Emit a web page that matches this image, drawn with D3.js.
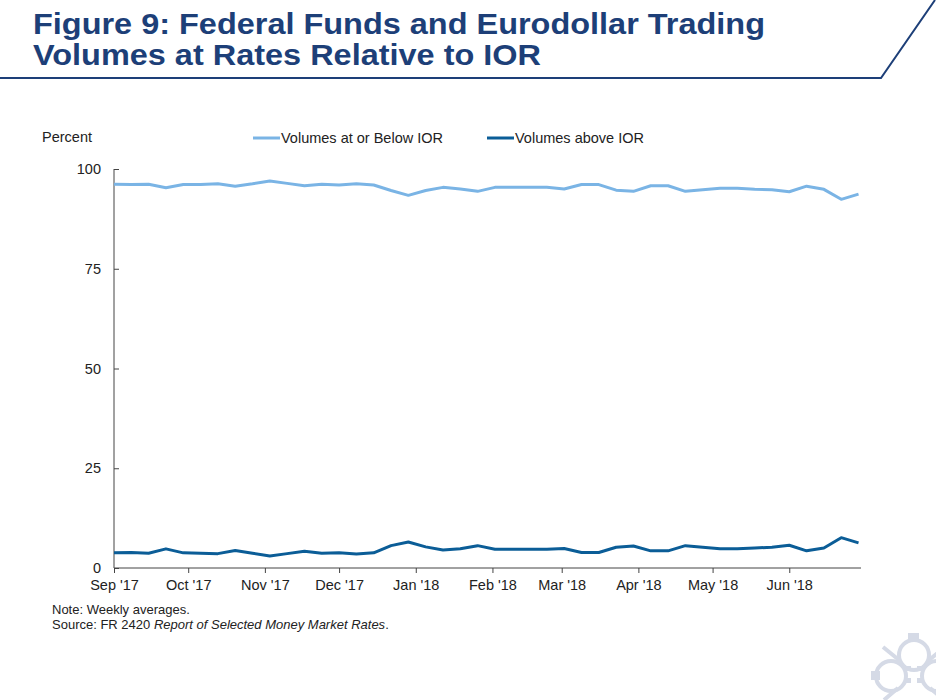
<!DOCTYPE html>
<html>
<head>
<meta charset="utf-8">
<script src="https://cdn.jsdelivr.net/npm/d3@7"></script>
<style>
    body { margin: 0; background: #fff; }
    svg { display: block; font-family: "Liberation Sans", Arial, sans-serif; }
</style>
</head>
<body>
<div id="chart"></div>
<script>
// weekly averages, Sep 2017 - Jun 2018
var firstWeek = "2017-09-01";
var belowIOR = [96.2, 96.1, 96.2, 95.3, 96.1, 96.1, 96.3, 95.7, 96.3, 97.0, 96.4, 95.8, 96.2, 96.0, 96.3, 96.0,
    94.6, 93.4, 94.6, 95.4, 95.0, 94.4, 95.4, 95.4, 95.4, 95.4, 95.0, 96.1, 96.1, 94.7, 94.4, 95.8, 95.8, 94.4,
    94.8, 95.2, 95.2, 94.9, 94.8, 94.3, 95.7, 94.9, 92.4, 93.7];
var aboveIOR = [3.8, 3.9, 3.7, 4.8, 3.8, 3.7, 3.6, 4.4, 3.7, 3.0, 3.6, 4.2, 3.7, 3.8, 3.5, 3.8,
    5.6, 6.5, 5.3, 4.5, 4.8, 5.6, 4.7, 4.7, 4.7, 4.7, 4.9, 3.9, 3.9, 5.2, 5.5, 4.3, 4.3, 5.6,
    5.2, 4.8, 4.8, 5.0, 5.2, 5.7, 4.3, 5.0, 7.6, 6.3];
var yTicks = [0, 25, 50, 75, 100];
var monthTicks = ["2017-09-01", "2017-10-01", "2017-11-01", "2017-12-01", "2018-01-01",
    "2018-02-01", "2018-03-01", "2018-04-01", "2018-05-01", "2018-06-01"];
var seriesNames = ["Volumes at or Below IOR", "Volumes above IOR"];

var navy = "#1d3f78";
var lightBlue = "#7ab4e5";
var darkBlue = "#0b5d97";
var axisColor = "#444";

var parse = d3.utcParse("%Y-%m-%d");
var start = parse(firstWeek);
var weeks = belowIOR.map(function (d, i) {
    return d3.utcDay.offset(start, 7 * i);
});

var svg = d3.select("#chart").append("svg")
    .attr("width", 936)
    .attr("height", 700);

// header
var titleFont = "'Liberation Sans Narrow', 'Arial Narrow', 'Liberation Sans', Arial, sans-serif";
svg.append("text")
    .attr("x", 33).attr("y", 34)
    .attr("fill", navy)
    .attr("font-family", titleFont)
    .attr("font-size", 30).attr("font-weight", "bold")
    .attr("textLength", 732).attr("lengthAdjust", "spacingAndGlyphs")
    .text("Figure 9: Federal Funds and Eurodollar Trading");
svg.append("text")
    .attr("x", 33).attr("y", 65)
    .attr("fill", navy)
    .attr("font-family", titleFont)
    .attr("font-size", 30).attr("font-weight", "bold")
    .attr("textLength", 508).attr("lengthAdjust", "spacingAndGlyphs")
    .text("Volumes at Rates Relative to IOR");
svg.append("path")
    .attr("d", "M0,78 L881,78 L935,0")
    .attr("fill", "none")
    .attr("stroke", navy)
    .attr("stroke-width", 2);

var x = d3.scaleUtc()
    .domain([parse("2017-09-01"), parse("2018-06-30")])
    .range([114, 861]);
var y = d3.scaleLinear().domain([0, 100]).range([568, 169]);

// y axis, ticks pointing into the plot
var yAxis = svg.append("g")
    .attr("transform", "translate(114,0)")
    .call(d3.axisRight(y).tickValues(yTicks).tickSize(5).tickFormat(""));
yAxis.select(".domain").attr("stroke", axisColor).attr("d", "M0," + y(100) + "V" + y(0));
yAxis.selectAll("line").attr("stroke", axisColor);
svg.selectAll(".ylab").data(yTicks).enter().append("text")
    .attr("class", "ylab")
    .attr("x", 101).attr("y", function (d) { return y(d) + 5; })
    .attr("text-anchor", "end")
    .attr("font-size", 14.5).attr("fill", "#222")
    .text(function (d) { return d; });

var xAxis = svg.append("g")
    .attr("transform", "translate(0,568)")
    .call(d3.axisBottom(x).tickValues(monthTicks.map(parse)).tickSize(5).tickPadding(7)
        .tickFormat(d3.utcFormat("%b '%y")));
xAxis.select(".domain").attr("stroke", axisColor).attr("d", "M114,0H861");
xAxis.selectAll("line").attr("stroke", axisColor);
xAxis.selectAll("text")
    .attr("font-size", 14.5).attr("fill", "#222")
    .attr("font-family", "Liberation Sans, Arial, sans-serif");

var line = d3.line()
    .x(function (d, i) { return x(weeks[i]); })
    .y(function (d) { return y(d); });

svg.append("path")
    .attr("d", line(belowIOR))
    .attr("fill", "none").attr("stroke", lightBlue)
    .attr("stroke-width", 3).attr("stroke-linejoin", "round");
svg.append("path")
    .attr("d", line(aboveIOR))
    .attr("fill", "none").attr("stroke", darkBlue)
    .attr("stroke-width", 3).attr("stroke-linejoin", "round");

// labels and legend
svg.append("text")
    .attr("x", 42).attr("y", 142)
    .attr("font-size", 14.5).attr("fill", "#222")
    .text("Percent");

var legendX = [253, 487];
var legendColors = [lightBlue, darkBlue];
seriesNames.forEach(function (name, i) {
    svg.append("line")
        .attr("x1", legendX[i]).attr("x2", legendX[i] + 27)
        .attr("y1", 138).attr("y2", 138)
        .attr("stroke", legendColors[i]).attr("stroke-width", 3);
    svg.append("text")
        .attr("x", legendX[i] + 28).attr("y", 143)
        .attr("font-size", 14.5).attr("fill", "#222")
        .text(name);
});

// notes
svg.append("text")
    .attr("x", 52).attr("y", 614)
    .attr("font-size", 13).attr("fill", "#222")
    .text("Note: Weekly averages.");
var src = svg.append("text")
    .attr("x", 52).attr("y", 629)
    .attr("font-size", 13).attr("fill", "#222");
src.append("tspan").text("Source: FR 2420 ");
src.append("tspan").attr("font-style", "italic").text("Report of Selected Money Market Rates");
src.append("tspan").text(".");

// faint emblem bottom right
var logo = svg.append("g")
    .attr("fill", "none")
    .attr("stroke", "#d5dae6")
    .attr("stroke-width", 4);
logo.append("circle").attr("cx", 914).attr("cy", 655).attr("r", 15);
logo.append("circle").attr("cx", 891).attr("cy", 676).attr("r", 15);
logo.append("circle").attr("cx", 937).attr("cy", 676).attr("r", 15);
logo.append("path").attr("d", "M883,647 L899,660 M945,647 L929,660 M884,700 L898,688 M944,700 L930,688");
var logoFill = svg.append("g").attr("fill", "#d5dae6");
logoFill.append("rect").attr("x", 908).attr("y", 633).attr("width", 11).attr("height", 8);
logoFill.append("rect").attr("x", 871).attr("y", 671).attr("width", 9).attr("height", 9);
logoFill.append("rect").attr("x", 906).attr("y", 666).attr("width", 5).attr("height", 5);
logoFill.append("rect").attr("x", 917).attr("y", 666).attr("width", 5).attr("height", 5);
logoFill.append("rect").attr("x", 906).attr("y", 678).attr("width", 5).attr("height", 5);
logoFill.append("rect").attr("x", 917).attr("y", 678).attr("width", 5).attr("height", 5);
</script>
</body>
</html>
